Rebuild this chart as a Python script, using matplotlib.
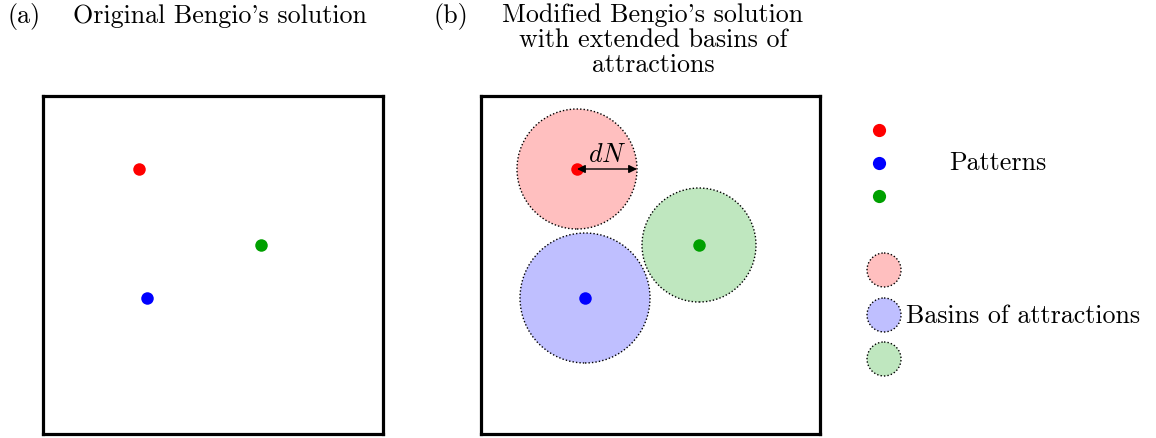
import matplotlib
matplotlib.use("Agg")
import matplotlib.pyplot as plt
from matplotlib.patches import Circle

plt.rcParams['font.family'] = ['cmr10', 'DejaVu Serif']
plt.rcParams['mathtext.fontset'] = 'cm'
plt.rcParams['axes.formatter.use_mathtext'] = True

# Data (pixel-like units inside each 340x338 panel)
pattern_names = ["red", "blue", "green"]
pattern_colors = ["#ff0000", "#0000ff", "#00a000"]
fill_colors = ["#ffbfbf", "#bfbfff", "#bfe7bf"]
pattern_x = [96, 104, 218]
pattern_y = [265, 136, 189]
basin_radius = [60, 65, 57]

titles = ["Original Bengio's solution",
          "Modified Bengio's solution\nwith extended basins of\nattractions"]
panel_labels = ["(a)", "(b)"]
legend_labels = ["Patterns", "Basins of attractions"]
distance_label = r"$dN$"

W, H = 1156, 439
fig = plt.figure(figsize=(W / 100, H / 100), dpi=100)

# Overlay axes in figure pixel coordinates (titles + legend)
ov = fig.add_axes([0, 0, 1, 1])
ov.set_xlim(0, W)
ov.set_ylim(H, 0)
ov.axis('off')

FS = 18.7
ov.text(7, 16, panel_labels[0], fontsize=FS, ha='left', va='center')
ov.text(220, 16, titles[0], fontsize=FS, ha='center', va='center')
ov.text(434, 16, panel_labels[1], fontsize=FS, ha='left', va='center')
ov.text(653, 40, titles[1], fontsize=FS, ha='center', va='center',
        linespacing=1.05, multialignment='center')

# Legend: pattern dots
leg_dot_x = 879
leg_dot_y = [131, 164, 197]
for c, y in zip(pattern_colors, leg_dot_y):
    ov.plot([leg_dot_x], [y], 'o', color=c, markersize=9.5, markeredgewidth=0)
ov.text(998, 163, legend_labels[0], fontsize=FS, ha='center', va='center')

# Legend: basin circles
leg_c_x = 884
leg_c_y = [271, 316, 360]
for fc, y in zip(fill_colors, leg_c_y):
    ov.add_patch(Circle((leg_c_x, y), 17, facecolor=fc, edgecolor='black',
                        linestyle=(0, (1, 1.5)), linewidth=1.0))
ov.text(906, 316, legend_labels[1], fontsize=FS, ha='left', va='center')

# Panels
panel_rects = [[43 / W, 4 / H, 340 / W, 338 / H],
               [481 / W, 4 / H, 339 / W, 338 / H]]
axes = []
for rect in panel_rects:
    ax = fig.add_axes(rect)
    ax.set_xlim(0, rect[2] * W)
    ax.set_ylim(0, rect[3] * H)
    ax.set_xticks([])
    ax.set_yticks([])
    for s in ax.spines.values():
        s.set_linewidth(2.3)
        s.set_color('black')
    axes.append(ax)

ax_a, ax_b = axes

# Panel (a): patterns only
for x, y, c in zip(pattern_x, pattern_y, pattern_colors):
    ax_a.plot([x], [y], 'o', color=c, markersize=9, markeredgewidth=0)

# Panel (b): patterns with basins
for x, y, c, fc, r in zip(pattern_x, pattern_y, pattern_colors, fill_colors, basin_radius):
    ax_b.add_patch(Circle((x, y), r, facecolor=fc, edgecolor='black',
                          linestyle=(0, (1, 1.5)), linewidth=1.0, zorder=1))
    ax_b.plot([x], [y], 'o', color=c, markersize=9, markeredgewidth=0, zorder=3)

# dN arrow on the red basin
rx, ry, rr = pattern_x[0], pattern_y[0], basin_radius[0]
ax_b.annotate('', xy=(rx + rr, ry), xytext=(rx, ry),
              arrowprops=dict(arrowstyle='<|-|>', color='black', lw=1.0,
                              mutation_scale=12, shrinkA=0, shrinkB=0), zorder=4)
ax_b.text(rx + rr / 2, ry + 3, distance_label, fontsize=FS, ha='center', va='bottom')

fig.savefig("out.png", dpi=100)
